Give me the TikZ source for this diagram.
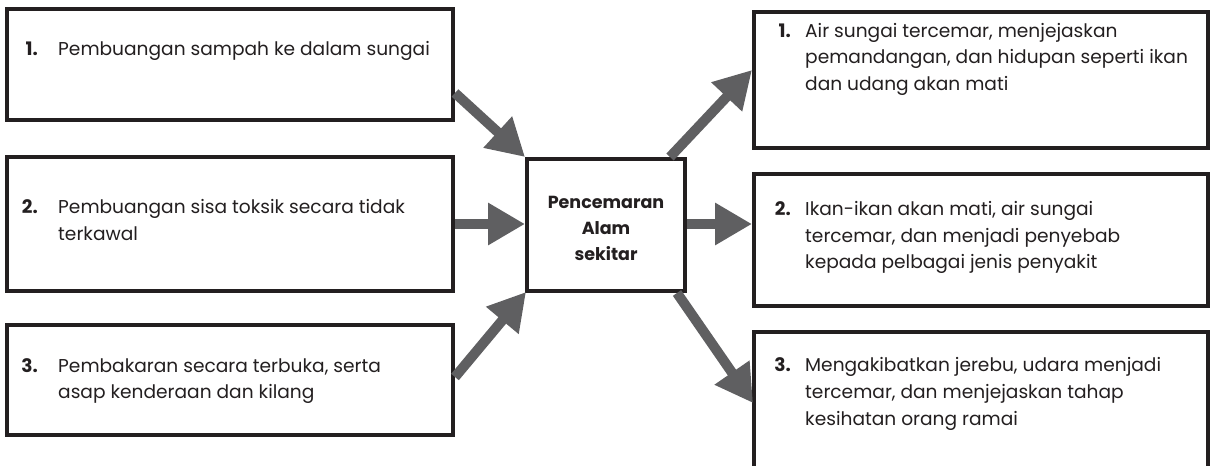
\documentclass[tikz,border=0pt]{standalone}
\usepackage{fontspec}
\setmainfont{Poppins}
\usetikzlibrary{arrows.meta,calc}
\definecolor{ink}{HTML}{231F20}
\definecolor{arrowgray}{HTML}{5F5F61}
\tikzset{
  box/.style={draw=ink, line width=4pt, fill=none, inner sep=0pt, outer sep=0pt},
  txt/.style={anchor=base west, inner sep=0pt, text=ink, font=\fontsize{18.6}{22}\selectfont},
  num/.style={anchor=base east, inner sep=0pt, text=ink, font=\fontsize{18.6}{22}\selectfont\bfseries},
  ctxt/.style={anchor=base, inner sep=0pt, text=ink, font=\fontsize{17.5}{21}\selectfont\bfseries},
  arr/.style={draw=arrowgray, line width=10pt, -{Triangle[length=37pt,width=40pt]}, fill=arrowgray}
}
\begin{document}
\begin{tikzpicture}[x=1pt,y=-1pt]
\useasboundingbox[fill=white] (0,0) rectangle (1211,466);
% boxes
\node[box, minimum width=446pt, minimum height=111pt] (L1) at (230,64.5) {};
\node[box, minimum width=446pt, minimum height=134pt] (L2) at (230,224) {};
\node[box, minimum width=446pt, minimum height=110pt] (L3) at (230,380) {};
\node[box, minimum width=158pt, minimum height=132pt] (C) at (606,225) {};
\node[box, minimum width=454pt, minimum height=136pt] (R1) at (981,80) {};
\node[box, minimum width=454pt, minimum height=132pt] (R2) at (981,240) {};
\node[box, minimum width=454pt, minimum height=136pt] (R3) at (981,400) {};
% texts
\node[num] (L1n) at (38,55) {1.};
\node[txt] (L1a) at (58,55) {Pembuangan sampah ke dalam sungai};
\node[num] (L2n) at (38,213) {2.};
\node[txt] (L2a) at (58,213) {Pembuangan sisa toksik secara tidak};
\node[txt] (L2b) at (58,240) {terkawal};
\node[num] (L3n) at (38,372) {3.};
\node[txt] (L3a) at (58,372) {Pembakaran secara terbuka, serta};
\node[txt] (L3b) at (58,398) {asap kenderaan dan kilang};
\node[ctxt] (C1) at (606,208) {Pencemaran};
\node[ctxt] (C2) at (606,234) {Alam};
\node[ctxt] (C3) at (606,260) {sekitar};
\node[num] (R1n) at (791,37) {1.};
\node[txt] (R1a) at (805,37) {Air sungai tercemar, menjejaskan};
\node[txt] (R1b) at (805,63) {pemandangan, dan hidupan seperti ikan};
\node[txt] (R1c) at (805,90) {dan udang akan mati};
\node[num] (R2n) at (791,215) {2.};
\node[txt] (R2a) at (805,215) {Ikan-ikan akan mati, air sungai};
\node[txt] (R2b) at (805,242) {tercemar, dan menjadi penyebab};
\node[txt] (R2c) at (805,268) {kepada pelbagai jenis penyakit};
\node[num] (R3n) at (791,371) {3.};
\node[txt] (R3a) at (805,371) {Mengakibatkan jerebu, udara menjadi};
\node[txt] (R3b) at (805,398) {tercemar, dan menjejaskan tahap};
\node[txt] (R3c) at (805,425) {kesihatan orang ramai};
% arrows
\draw[arr] ($(L1.south east)+(2,-27)$) -- ($(C.north west)+(-2,-2)$);
\draw[arr] ($(L2.east)+(2,0)$) -- ($(C.west |- L2.east)+(-2,0)$);
\draw[arr] ($(L3.north east)+(2,52)$) -- ($(C.south west)+(-1,1)$);
\draw[arr] ($(C.north east)+(-15,-2)$) -- ($(R1.north west)+(-2,58)$);
\draw[arr] ($(C.east |- L2.east)+(2,0)$) -- ($(R2.west |- L2.east)+(-2,0)$);
\draw[arr] ($(C.south east)+(-8,2)$) -- ($(R3.north west)+(-1,71)$);
\end{tikzpicture}
\end{document}
